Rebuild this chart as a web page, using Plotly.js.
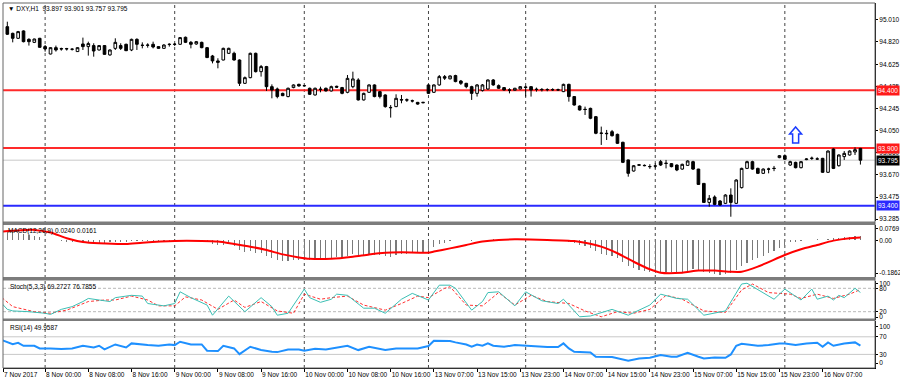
<!DOCTYPE html>
<html><head><meta charset="utf-8">
<script src="https://cdn.plot.ly/plotly-3.0.1.min.js"></script>
<style>html,body{margin:0;padding:0;background:#fff;}#chart{width:900px;height:383px;}</style>
</head><body><div id="chart"></div>
<script>
// ---------- DATA ----------
const barOpen = [94.952,94.894,94.851,94.915,94.842,94.816,94.851,94.779,94.715,94.770,
94.762,94.759,94.757,94.736,94.802,94.779,94.788,94.750,94.788,94.707,
94.764,94.788,94.799,94.750,94.842,94.791,94.790,94.799,94.779,94.764,
94.797,94.798,94.799,94.860,94.816,94.802,94.816,94.770,94.698,94.655,
94.663,94.721,94.721,94.663,94.461,94.510,94.721,94.562,94.606,94.432,
94.412,94.374,94.346,94.424,94.452,94.441,94.418,94.360,94.410,94.418,
94.395,94.435,94.424,94.383,94.432,94.490,94.317,94.383,94.447,94.389,
94.360,94.252,94.259,94.320,94.318,94.310,94.296,94.292,94.447,94.383,
94.447,94.519,94.500,94.528,94.481,94.461,94.432,94.374,94.398,94.412,
94.490,94.441,94.424,94.404,94.401,94.412,94.430,94.432,94.410,94.408,
94.406,94.407,94.405,94.389,94.452,94.346,94.264,94.236,94.244,94.172,
94.030,94.028,94.042,94.019,93.950,93.797,93.701,93.751,93.750,93.740,
93.745,93.782,93.769,93.765,93.753,93.718,93.750,93.782,93.718,93.594,
93.429,93.476,93.441,93.421,93.493,93.421,93.557,93.724,93.782,93.724,
93.681,93.719,93.725,93.817,93.834,93.753,93.776,93.730,93.800,93.810,
93.806,93.811,93.690,93.892,93.747,93.826,93.840,93.866,93.897];
const barHigh = [94.995,94.900,94.915,94.920,94.851,94.848,94.855,94.793,94.773,94.788,
94.770,94.768,94.765,94.773,94.857,94.822,94.808,94.793,94.793,94.755,
94.851,94.808,94.805,94.848,94.851,94.816,94.808,94.822,94.782,94.800,
94.808,94.810,94.862,94.866,94.828,94.828,94.822,94.776,94.707,94.678,
94.770,94.770,94.735,94.668,94.520,94.727,94.727,94.620,94.612,94.452,
94.424,94.380,94.424,94.452,94.458,94.447,94.424,94.424,94.432,94.424,
94.441,94.441,94.430,94.533,94.562,94.505,94.380,94.452,94.452,94.395,
94.366,94.273,94.366,94.360,94.330,94.320,94.300,94.300,94.452,94.452,
94.533,94.533,94.530,94.535,94.490,94.465,94.440,94.455,94.455,94.495,
94.498,94.452,94.428,94.418,94.422,94.436,94.440,94.436,94.424,94.420,
94.418,94.418,94.415,94.458,94.458,94.350,94.270,94.259,94.250,94.178,
94.086,94.057,94.057,94.025,93.955,93.800,93.753,93.762,93.758,93.760,
93.768,93.797,93.797,93.770,93.758,93.765,93.794,93.790,93.720,93.597,
93.493,93.490,93.450,93.500,93.551,93.630,93.730,93.790,93.790,93.730,
93.724,93.730,93.745,93.840,93.845,93.790,93.782,93.788,93.811,93.826,
93.820,93.815,93.880,93.898,93.845,93.874,93.880,93.906,93.901];
const barLow = [94.880,94.816,94.845,94.816,94.788,94.810,94.770,94.736,94.712,94.736,
94.744,94.745,94.745,94.733,94.750,94.701,94.692,94.745,94.710,94.700,
94.750,94.750,94.740,94.740,94.750,94.764,94.770,94.764,94.760,94.760,
94.779,94.785,94.795,94.810,94.764,94.795,94.765,94.680,94.634,94.591,
94.660,94.715,94.658,94.438,94.455,94.505,94.555,94.519,94.395,94.331,
94.331,94.350,94.340,94.418,94.432,94.432,94.360,94.355,94.383,94.390,
94.390,94.420,94.366,94.375,94.418,94.312,94.312,94.378,94.340,94.330,
94.250,94.164,94.255,94.288,94.300,94.295,94.275,94.288,94.370,94.378,
94.440,94.490,94.495,94.470,94.447,94.418,94.317,94.346,94.390,94.405,
94.440,94.412,94.398,94.374,94.398,94.408,94.346,94.346,94.389,94.390,
94.392,94.395,94.396,94.385,94.302,94.268,94.225,94.187,94.150,94.020,
93.927,93.970,94.000,93.935,93.770,93.652,93.696,93.745,93.742,93.720,
93.724,93.745,93.724,93.733,93.700,93.712,93.745,93.710,93.580,93.425,
93.392,93.405,93.400,93.415,93.305,93.415,93.550,93.718,93.712,93.675,
93.675,93.681,93.700,93.812,93.797,93.745,93.724,93.724,93.795,93.797,
93.797,93.685,93.685,93.718,93.740,93.797,93.835,93.840,93.757];
const barClose = [94.886,94.851,94.909,94.822,94.822,94.845,94.773,94.759,94.770,94.750,
94.759,94.761,94.756,94.770,94.779,94.805,94.741,94.788,94.712,94.750,
94.816,94.764,94.744,94.842,94.799,94.790,94.792,94.776,94.764,94.793,
94.799,94.800,94.857,94.816,94.799,94.822,94.770,94.684,94.655,94.643,
94.764,94.764,94.663,94.461,94.510,94.721,94.562,94.606,94.432,94.403,
94.346,94.354,94.418,94.447,94.438,94.440,94.366,94.418,94.409,94.395,
94.432,94.428,94.374,94.504,94.499,94.317,94.374,94.447,94.346,94.346,
94.259,94.250,94.331,94.317,94.316,94.308,94.281,94.296,94.374,94.447,
94.519,94.506,94.525,94.476,94.461,94.432,94.374,94.447,94.447,94.490,
94.447,94.418,94.403,94.402,94.418,94.432,94.425,94.403,94.408,94.406,
94.407,94.405,94.404,94.452,94.346,94.273,94.230,94.234,94.158,94.028,
94.028,94.025,94.007,93.941,93.776,93.681,93.747,93.755,93.748,93.739,
93.744,93.753,93.767,93.739,93.710,93.759,93.788,93.718,93.585,93.429,
93.464,93.412,93.407,93.493,93.429,93.623,93.724,93.782,93.718,93.681,
93.718,93.717,93.723,93.834,93.803,93.782,93.730,93.782,93.805,93.812,
93.805,93.690,93.874,93.724,93.840,93.854,93.874,93.886,93.795];

const macdMain = [0.047,0.043,0.038,0.035,0.029,0.024,0.017,0.006,0.002,0.000,
-0.003,-0.006,-0.008,-0.009,-0.008,-0.008,-0.010,-0.011,-0.012,-0.010,
-0.007,-0.007,-0.008,-0.005,-0.005,-0.004,-0.004,-0.004,-0.005,-0.003,
-0.002,-0.001,0.003,0.003,0.002,0.002,-0.002,-0.010,-0.018,-0.026,
-0.022,-0.020,-0.028,-0.050,-0.060,-0.055,-0.065,-0.068,-0.085,-0.095,
-0.105,-0.110,-0.108,-0.105,-0.103,-0.100,-0.104,-0.102,-0.100,-0.098,
-0.094,-0.090,-0.092,-0.080,-0.072,-0.082,-0.080,-0.072,-0.075,-0.075,
-0.084,-0.086,-0.078,-0.074,-0.070,-0.068,-0.067,-0.062,-0.055,-0.035,
-0.020,-0.012,-0.004,0.000,0.002,0.003,-0.001,0.000,0.002,0.005,
0.006,0.005,0.004,0.003,0.003,0.003,0.004,0.002,0.001,0.001,
0.001,0.000,0.000,0.002,-0.006,-0.015,-0.022,-0.030,-0.040,-0.058,
-0.070,-0.078,-0.085,-0.095,-0.115,-0.135,-0.148,-0.155,-0.160,-0.168,
-0.172,-0.175,-0.170,-0.168,-0.168,-0.165,-0.160,-0.152,-0.158,-0.170,
-0.175,-0.180,-0.182,-0.178,-0.172,-0.158,-0.135,-0.118,-0.105,-0.092,
-0.080,-0.068,-0.055,-0.040,-0.028,-0.010,-0.006,-0.002,0.002,0.004,
0.006,0.004,0.010,0.012,0.015,0.018,0.020,0.024,0.024];

const macdSignalBar = [-1,5,8,11,14,17,22,25,31,36,39,42,45,48,51,54,56,60,64,67,70,73,78,79,82,85,88,91,94,100,105,107,110,113,116,119,121,125,128,131,134,136,139,144,147,150,153,156,158];
const macdSignal = [0.047,0.056,0.042,0.012,-0.008,-0.015,-0.019,-0.012,-0.003,-0.003,-0.006,-0.019,-0.033,-0.051,-0.074,-0.090,-0.097,-0.097,-0.086,-0.074,-0.065,-0.063,-0.065,-0.059,-0.042,-0.024,-0.006,0.003,0.006,0.003,-0.003,-0.012,-0.033,-0.068,-0.113,-0.153,-0.171,-0.171,-0.160,-0.160,-0.166,-0.166,-0.139,-0.077,-0.047,-0.024,-0.001,0.012,0.016];

const stochMainBar = [-1,0,1,4,7,8,10,12,14,15,17,19,20,23,25,26,29,31,32,34,37,38,41,44,47,49,50,52,55,56,58,60,61,63,66,68,70,73,75,78,80,82,83,86,88,89,91,94,96,99,102,103,106,108,112,115,119,121,124,126,129,133,136,137,142,144,147,149,150,152,153,154,155,157,158];
const stochMain = [41,26,22,20,16,13,26,33,46,54,50,46,56,62,60,41,35,41,71,56,37,11,60,20,56,33,11,16,78,56,44,52,65,62,29,29,16,52,67,50,88,88,80,24,46,69,71,35,71,48,41,52,7,9,26,11,37,65,54,52,11,22,91,93,52,78,50,78,52,60,50,62,56,80,69.27];
const stochSignalBar = [-1,1,5,8,11,15,18,20,23,26,28,31,33,36,39,42,44,47,50,53,55,58,60,63,66,70,73,76,78,81,82,85,88,91,94,97,100,104,107,110,113,116,119,122,125,129,133,136,138,141,145,147,150,153,156,158];
const stochSignal = [56,33,20,16,24,46,50,50,60,50,35,35,58,50,26,50,31,46,22,16,65,52,56,60,37,24,41,60,56,80,84,37,35,69,37,62,46,41,22,7,20,16,26,62,52,22,18,76,91,69,65,54,65,54,65,76.79];

const rsiBar = [-1,1,2,3,5,6,8,10,12,14,16,17,18,20,22,23,26,28,30,31,32,34,36,37,39,40,42,43,45,46,47,49,50,52,54,55,57,59,63,65,67,70,72,76,78,79,82,83,85,86,87,88,89,90,92,94,96,97,100,102,103,104,105,108,109,112,113,115,117,119,121,123,124,126,128,129,131,133,134,135,136,139,141,143,144,146,148,150,151,152,153,155,157,158];
const rsi = [62.5,53.4,56.4,49.6,49.6,43.6,43.6,42,43.6,49.6,45.8,49.6,41.3,52.6,45.8,55,51.1,49.6,52.6,51.1,58.8,52.6,52.6,38.3,37.5,49.6,43.6,30.7,47.3,43.6,39.8,36,35.2,41.3,41.3,38.3,42.8,41.3,49.6,39.8,47.3,39.8,43.6,43.6,48.9,61,60.2,57.3,52.6,47.3,52.6,49.6,55,49.6,47.3,51.1,49.6,47.3,46.6,46.6,55,43.6,36,34.5,24.6,23.9,20.8,15.5,20.8,22.3,28.4,24.6,24.6,33.7,24.6,20.8,23.1,22.3,29.9,49.6,54.2,49.6,51.1,55,55,51.1,55,56.4,47.3,57.3,49.6,55,57.3,49.96];

const tickBars = [-0.79,7,15,23,31,39,47,55,63,71,79,87,95,103,111,119,127,135,143,151];
const tickLabels = ['7 Nov 2017','8 Nov 00:00','8 Nov 08:00','8 Nov 16:00','9 Nov 00:00','9 Nov 08:00','9 Nov 16:00','10 Nov 00:00','10 Nov 08:00','10 Nov 16:00','13 Nov 07:00','13 Nov 15:00','13 Nov 23:00','14 Nov 07:00','14 Nov 15:00','14 Nov 23:00','15 Nov 07:00','15 Nov 15:00','15 Nov 23:00','16 Nov 07:00'];
const dayStartBars = [7,31,55,78,96,120,144];
const priceTicks = [95.010,94.820,94.625,94.435,94.245,94.050,93.860,93.670,93.475,93.285];
const macdTickLabels = ['0.0769','0.00','-0.1862'];
const stochTickLabels = ['100','80','20','0'];
const rsiTickLabels = ['100','70','30','0'];
const resistanceLevels = [94.400, 93.900];
const supportLevels = [93.400];
const bidPrice = 93.795;
const arrowBar = 146, arrowPrice = 94.083;

// ---------- CHART ----------
const idx = barOpen.map((_, i) => i);
const FONT = 'Liberation Sans, Arial, sans-serif';
const py = y => (368 - y) / 365;   // pixel row -> paper fraction

const traces = [
  {type:'candlestick', x:idx, open:barOpen, high:barHigh, low:barLow, close:barClose,
   xaxis:'x', yaxis:'y', whiskerwidth:0, hoverinfo:'skip',
   increasing:{line:{color:'#000', width:1}, fillcolor:'#ffffff'},
   decreasing:{line:{color:'#000', width:1}, fillcolor:'#000000'}},
  {type:'bar', x:idx, y:macdMain, xaxis:'x', yaxis:'y2', width:0.22,
   marker:{color:'#7a7a7a', line:{width:0}}, hoverinfo:'skip'},
  {type:'scatter', mode:'lines', x:macdSignalBar, y:macdSignal, xaxis:'x', yaxis:'y2',
   line:{color:'#ff0000', width:2, shape:'spline', smoothing:0.6}, hoverinfo:'skip'},
  {type:'scatter', mode:'lines', x:stochSignalBar, y:stochSignal, xaxis:'x', yaxis:'y3',
   line:{color:'#ff3030', width:1, dash:'3px,2px'}, hoverinfo:'skip'},
  {type:'scatter', mode:'lines', x:stochMainBar, y:stochMain, xaxis:'x', yaxis:'y3',
   line:{color:'#3cbfb4', width:1}, hoverinfo:'skip'},
  {type:'scatter', mode:'lines', x:rsiBar, y:rsi, xaxis:'x', yaxis:'y4',
   line:{color:'#1e90ff', width:2}, hoverinfo:'skip'}
];

const shapes = [];
dayStartBars.forEach(b => shapes.push({type:'line', xref:'x', yref:'paper', x0:b, x1:b, y0:0, y1:1,
  line:{color:'#444', width:1, dash:'dot'}, layer:'below'}));
shapes.push({type:'line', xref:'paper', yref:'y', x0:0, x1:1, y0:bidPrice, y1:bidPrice,
  line:{color:'#c8c8c8', width:1}, layer:'below'});
resistanceLevels.forEach(v => shapes.push({type:'line', xref:'paper', yref:'y', x0:0, x1:1, y0:v, y1:v,
  line:{color:'#ff2a2a', width:2}, layer:'below'}));
supportLevels.forEach(v => shapes.push({type:'line', xref:'paper', yref:'y', x0:0, x1:1, y0:v, y1:v,
  line:{color:'#2a2aff', width:2}, layer:'below'}));
[20,80].forEach(v => shapes.push({type:'line', xref:'paper', yref:'y3', x0:0, x1:1, y0:v, y1:v,
  line:{color:'#b8b8b8', width:1, dash:'3px,2px'}, layer:'below'}));
[30,70].forEach(v => shapes.push({type:'line', xref:'paper', yref:'y4', x0:0, x1:1, y0:v, y1:v,
  line:{color:'#c8c8c8', width:1}, layer:'below'}));
// panel separators
[[221.5,225],[277,280.5],[318.5,321]].forEach(([a,b]) => shapes.push({type:'rect', xref:'paper', yref:'paper',
  x0:0, x1:1, y0:py(b), y1:py(a), fillcolor:'#7c7c7c', line:{width:0}}));
// frame
shapes.push({type:'rect', xref:'paper', yref:'paper', x0:0, x1:1, y0:0, y1:1, line:{color:'#666', width:1}, fillcolor:'rgba(0,0,0,0)'});
// blue arrow object
shapes.push({type:'path', xref:'x', yref:'y', xsizemode:'pixel', ysizemode:'pixel',
  xanchor:arrowBar, yanchor:arrowPrice,
  path:'M 0 0 L 6 -7 L 3 -7 L 3 -16 L -3 -16 L -3 -7 L -6 -7 Z',
  line:{color:'#1a3cff', width:1.5}, fillcolor:'rgba(255,255,255,0)'});

const annotations = [];
const priceBox = (v, bg) => ({xref:'paper', x:1, xanchor:'left', xshift:1, yref:'y', y:v, yanchor:'middle',
  text:v.toFixed(3), showarrow:false, bgcolor:bg, borderpad:1, font:{family:FONT, size:6.5, color:'#fff'}});
resistanceLevels.forEach(v => annotations.push(priceBox(v, '#ff1a1a')));
supportLevels.forEach(v => annotations.push(priceBox(v, '#2a2aff')));
annotations.push(priceBox(bidPrice, '#000000'));
const label = (txt, yPix, x) => ({xref:'paper', x:x, xanchor:'left', yref:'paper', y:py(yPix), yanchor:'middle',
  text:txt, showarrow:false, font:{family:FONT, size:6.5, color:'#000'}});
annotations.push(label('▼ DXY,H1  93.897 93.901 93.757 93.795', 8, 0.003));
annotations.push(label('MACD(12,26,9) 0.0240 0.0161', 231, 0.003));
annotations.push(label('Stoch(5,3,3) 69.2727 76.7855', 287, 0.006));
annotations.push(label('RSI(14) 49.9587', 328, 0.006));

const yStyle = {side:'right', anchor:'x', showgrid:false, zeroline:false, showline:true, linecolor:'#000', linewidth:1,
  ticks:'outside', ticklen:2, tickcolor:'#000', tickfont:{family:FONT, size:6.5, color:'#000'}, fixedrange:true};

const layout = {
  width:900, height:383, margin:{l:3, r:25, t:3, b:15},
  paper_bgcolor:'#ffffff', plot_bgcolor:'#ffffff', showlegend:false, bargap:0,
  xaxis:{range:[-0.8,160.7], anchor:'y4', rangeslider:{visible:false}, showgrid:false, zeroline:false,
    showline:true, linecolor:'#000', ticks:'outside', ticklen:3, tickcolor:'#000', tickangle:0,
    tickvals:tickBars, ticktext:tickLabels, ticklabelposition:'outside right',
    tickfont:{family:FONT, size:6.5, color:'#000'}},
  yaxis:Object.assign({}, yStyle, {domain:[py(221), 1], range:[93.268, 95.157],
    tickvals:priceTicks, ticktext:priceTicks.map(v => v.toFixed(3))}),
  yaxis2:Object.assign({}, yStyle, {domain:[py(277), py(225)], range:[-0.194, 0.082],
    tickvals:[0.061, 0, -0.173], ticktext:macdTickLabels}),
  yaxis3:Object.assign({}, yStyle, {domain:[py(319.5), py(280.5)], range:[0, 100],
    tickvals:[93, 80, 20, 6], ticktext:stochTickLabels}),
  yaxis4:Object.assign({}, yStyle, {domain:[0, py(321)], range:[-1, 106],
    tickvals:[93, 70, 30, 10], ticktext:rsiTickLabels}),
  shapes:shapes, annotations:annotations
};

Plotly.newPlot('chart', traces, layout, {staticPlot:true, displayModeBar:false});
</script></body></html>
